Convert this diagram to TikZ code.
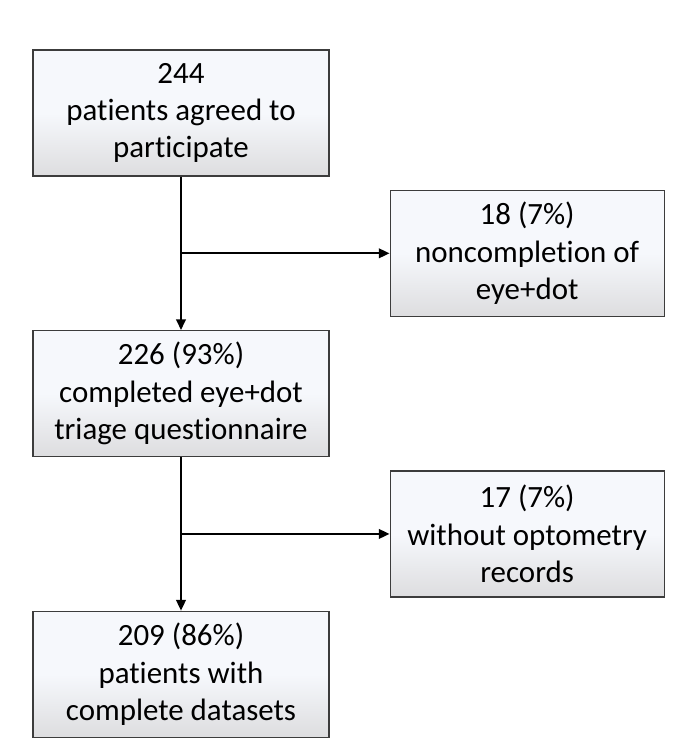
\documentclass[tikz,border=0pt]{standalone}
\usepackage{fontspec}
\setmainfont[RawFeature={-liga;-clig;-calt;-dlig}]{Carlito}
\usetikzlibrary{positioning, arrows.meta, calc}

\definecolor{boxtop}{RGB}{246,248,252}
\definecolor{boxbottom}{RGB}{221,221,223}
\definecolor{boxline}{RGB}{60,60,60}

\begin{document}
\begin{tikzpicture}[
    >={Triangle[length=2.7mm, width=2.4mm]},
    flowbox/.style={rectangle, draw=boxline, line width=0.8pt,
                    top color=boxtop, bottom color=boxbottom, middle color=boxtop,
                    minimum width=7.4cm, minimum height=3.15cm, inner sep=0pt,
                    align=center, font=\fontsize{22}{26.6}\selectfont},
    exclbox/.style={flowbox, minimum width=6.85cm},
    arrow/.style={->, line width=1.5pt, black},
]
\useasboundingbox (0,0) rectangle (17.425,-18.45);

% Main column
\node[flowbox] (agreed) at (4.525,-2.825) {244\\patients agreed to\\participate};
\node[flowbox, below=3.8375cm of agreed] (completed) {226 (93\%)\\completed eye+dot\\triage questionnaire};
\node[flowbox, below=3.8375cm of completed] (datasets) {209 (86\%)\\patients with\\complete datasets};

% Split points on the main line
\coordinate (split1) at ($(agreed.south)!0.5!(completed.north)$);
\coordinate (split2) at ($(completed.south)!0.5!(datasets.north)$);
\coordinate (edge1) at (split1 -| agreed.east);
\coordinate (edge2) at (split2 -| completed.east);

% Exclusion boxes
\node[exclbox, right=1.5cm of edge1] (noncompl) {18 (7\%)\\noncompletion of\\eye+dot};
\node[exclbox, right=1.5cm of edge2] (norecords) {17 (7\%)\\without optometry\\records};

% Arrows
\draw[arrow] (agreed) -- (completed);
\draw[arrow] (completed) -- (datasets);
\draw[arrow] (split1) -- (noncompl);
\draw[arrow] (split2) -- (norecords);

\end{tikzpicture}
\end{document}
